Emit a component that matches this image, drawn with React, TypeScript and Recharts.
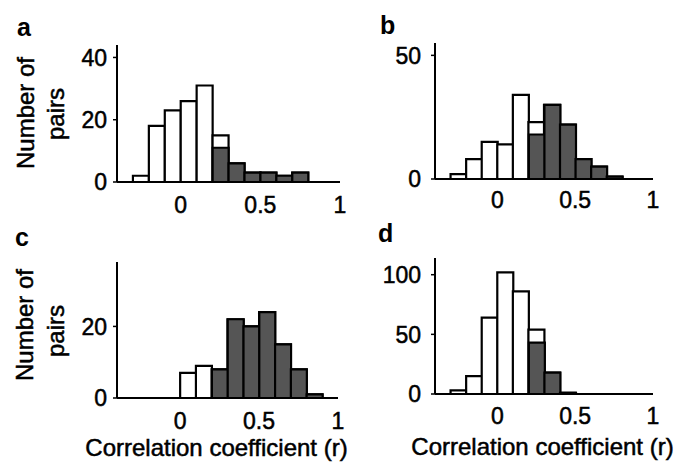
import React from 'react';
import { BarChart, Bar, XAxis, YAxis } from 'recharts';

const BINS = [-0.35, -0.25, -0.15, -0.05, 0.05, 0.15, 0.25, 0.35, 0.45, 0.55, 0.65, 0.75, 0.85, 0.95];
const X_TICKS = [0, 0.5, 1];

const TOTAL_A = [0, 2, 18, 23, 26, 31, 15, 6, 3, 3, 2, 3, 0, 0];
const SIG_A = [0, 0, 0, 0, 0, 0, 11, 6, 3, 3, 2, 3, 0, 0];
const Y_TICKS_A = [0, 20, 40];

const TOTAL_B = [0, 2, 8, 15, 14, 34, 23, 30, 22, 8, 5, 1, 0, 0];
const SIG_B = [0, 0, 0, 0, 0, 0, 18, 30, 22, 8, 5, 1, 0, 0];
const Y_TICKS_B = [0, 50];

const TOTAL_C = [0, 0, 0, 0, 7, 9, 8, 22, 20, 24, 15, 8, 1, 0];
const SIG_C = [0, 0, 0, 0, 0, 0, 8, 22, 20, 24, 15, 8, 1, 0];
const Y_TICKS_C = [0, 20];

const TOTAL_D = [0, 3, 15, 64, 102, 86, 54, 18, 1, 0, 0, 0, 0, 0];
const SIG_D = [0, 0, 0, 0, 0, 0, 43, 18, 1, 0, 0, 0, 0, 0];
const Y_TICKS_D = [0, 50, 100];

const FONT = '"Liberation Sans", Arial, Helvetica, sans-serif';

const build = (total: number[], sig: number[]) =>
  BINS.map((x, i) => ({ bin: String(x), x, total: total[i], sig: sig[i] }));

type PanelProps = {
  total: number[];
  sig: number[];
  yTicks: number[];
  yMax: number;
  left: number;
  top: number;
  width: number;
  height: number;
  margin: { top: number; right: number; left: number; bottom: number };
  yAxisWidth: number;
  xAxisHeight: number;
  yTickMargin: number;
  xTickOffset: number;
};

function Panel(p: PanelProps) {
  const data = build(p.total, p.sig);
  const tickStyle = { fill: '#000', fontSize: 23, fontFamily: FONT, stroke: '#000', strokeWidth: 0.5 };
  return (
    <div style={{ position: 'absolute', left: p.left, top: p.top }}>
      <BarChart
        width={p.width}
        height={p.height}
        data={data}
        margin={p.margin}
        barCategoryGap={0}
        barGap="-100%"
      >
        <XAxis xAxisId="cat" dataKey="bin" type="category" hide height={0} />
        <XAxis
          xAxisId="num"
          dataKey="x"
          type="number"
          scale="linear"
          domain={[-0.4, 1]}
          ticks={X_TICKS}
          allowDataOverflow
          height={p.xAxisHeight}
          axisLine={{ stroke: '#000', strokeWidth: 2 }}
          tickLine={false}
          tickSize={0}
          tickMargin={p.xTickOffset}
          tick={tickStyle}
          interval={0}
        />
        <YAxis
          type="number"
          domain={[0, p.yMax]}
          ticks={p.yTicks}
          allowDataOverflow
          width={p.yAxisWidth}
          axisLine={{ stroke: '#000', strokeWidth: 2 }}
          tickLine={{ stroke: '#000', strokeWidth: 1.5 }}
          tickSize={4}
          tickMargin={p.yTickMargin}
          tick={tickStyle}
          interval={0}
        />
        <Bar xAxisId="cat" dataKey="total" fill="#ffffff" stroke="#000" strokeWidth={2.2} isAnimationActive={false} />
        <Bar xAxisId="cat" dataKey="sig" fill="#555555" stroke="#000" strokeWidth={2.2} isAnimationActive={false} />
      </BarChart>
    </div>
  );
}

export default function App() {
  const textStyle = { fontFamily: FONT, fontSize: 24, fill: '#000', stroke: '#000', strokeWidth: 0.5 };
  const letterStyle = { fontFamily: FONT, fontSize: 25, fill: '#000', fontWeight: 'bold' as const };
  return (
    <div style={{ position: 'absolute', left: 0, top: 0, width: 677, height: 464, background: '#fff', overflow: 'hidden' }}>
      <Panel
        total={TOTAL_A} sig={SIG_A} yTicks={Y_TICKS_A} yMax={44}
        left={0} top={0} width={360} height={230}
        margin={{ top: 45, right: 20, left: 0, bottom: 0 }}
        yAxisWidth={117} xAxisHeight={48} yTickMargin={6} xTickOffset={15}
      />
      <Panel
        total={TOTAL_B} sig={SIG_B} yTicks={Y_TICKS_B} yMax={55}
        left={340} top={0} width={330} height={230}
        margin={{ top: 43, right: 17, left: 0, bottom: 0 }}
        yAxisWidth={95} xAxisHeight={51} yTickMargin={10} xTickOffset={13}
      />
      <Panel
        total={TOTAL_C} sig={SIG_C} yTicks={Y_TICKS_C} yMax={38}
        left={0} top={230} width={360} height={234}
        margin={{ top: 32, right: 22, left: 0, bottom: 0 }}
        yAxisWidth={117} xAxisHeight={66} yTickMargin={6} xTickOffset={15}
      />
      <Panel
        total={TOTAL_D} sig={SIG_D} yTicks={Y_TICKS_D} yMax={114}
        left={340} top={230} width={330} height={234}
        margin={{ top: 28, right: 17, left: 0, bottom: 0 }}
        yAxisWidth={95} xAxisHeight={70} yTickMargin={10} xTickOffset={14}
      />
      <svg width={677} height={464} style={{ position: 'absolute', left: 0, top: 0, pointerEvents: 'none' }}>
        <text x={17} y={36} style={letterStyle}>a</text>
        <text x={380} y={34} style={letterStyle}>b</text>
        <text x={15} y={246} style={letterStyle}>c</text>
        <text x={378} y={242} style={letterStyle}>d</text>
        <text transform="translate(25,113) rotate(-90)" textAnchor="middle" dominantBaseline="central" style={textStyle}>Number of</text>
        <text transform="translate(55,114) rotate(-90)" textAnchor="middle" dominantBaseline="central" style={textStyle}>pairs</text>
        <text transform="translate(24,325) rotate(-90)" textAnchor="middle" dominantBaseline="central" style={textStyle}>Number of</text>
        <text transform="translate(55,331) rotate(-90)" textAnchor="middle" dominantBaseline="central" style={textStyle}>pairs</text>
        <text x={216.5} y={456} textAnchor="middle" style={textStyle}>Correlation coefficient (r)</text>
        <text x={542.5} y={455} textAnchor="middle" style={textStyle}>Correlation coefficient (r)</text>
      </svg>
    </div>
  );
}
